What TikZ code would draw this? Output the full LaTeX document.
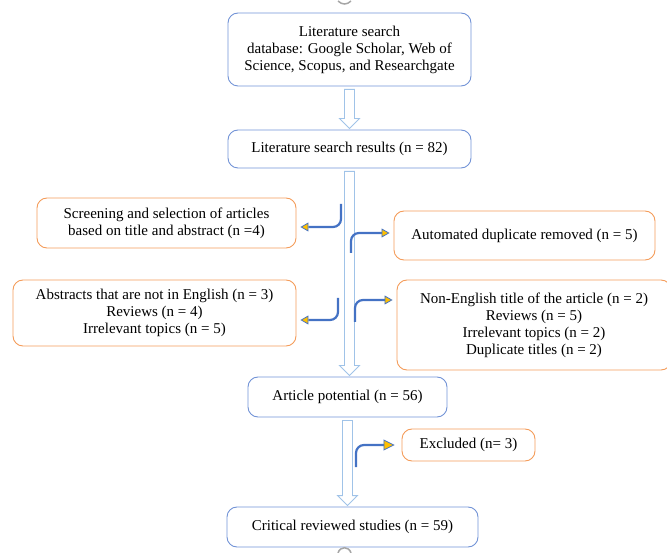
\documentclass[tikz,border=0pt]{standalone}
\usepackage{fontspec}
\setmainfont{Liberation Serif}
\usetikzlibrary{arrows.meta,calc}
\definecolor{boxblue}{RGB}{114,147,214}
\definecolor{boxorange}{RGB}{244,156,90}
\definecolor{linkblue}{RGB}{68,114,196}
\definecolor{tipgold}{RGB}{255,192,0}
\definecolor{hollowblue}{RGB}{160,195,232}

\begin{document}
\begin{tikzpicture}[x=1pt,y=-1pt,
    every node/.style={font=\fontsize{15}{17}\selectfont, align=center, rounded corners=10pt, line width=0.9pt},
    mainbox/.style={draw=boxblue},
    sidebox/.style={draw=boxorange},
    hollow/.style={draw=hollowblue, fill=white, line width=0.9pt},
    bent/.style={draw=linkblue, line width=2.2pt, rounded corners=8pt, shorten >=4pt,
        -{Triangle[length=8pt,width=9pt,line width=0.8pt,fill=tipgold]}}]

\useasboundingbox (0,0) rectangle (667,553);

% main column
\node[mainbox, minimum width=243pt, minimum height=73pt] (search) at (349.5,49.5)
    {Literature search\\ database: Google Scholar, Web of\\ Science, Scopus, and Researchgate};
\node[mainbox, minimum width=243pt, minimum height=38pt] (results) at (349.5,149)
    {Literature search results (n = 82)};
\node[mainbox, minimum width=199pt, minimum height=40pt] (potential) at (347.5,397)
    {Article potential (n = 56)};
\node[mainbox, minimum width=251pt, minimum height=40pt] (critical) at (352.5,527)
    {Critical reviewed studies (n = 59)};

% left side
\node[sidebox, minimum width=259pt, minimum height=50pt] (screening) at (166.5,223)
    {Screening and selection of articles\\ based on title and abstract (n =4)};
\node[sidebox, minimum width=283pt, minimum height=66pt] (abstracts) at (154.5,313)
    {Abstracts that are not in English (n = 3)\\ Reviews (n = 4)\\ Irrelevant topics (n = 5)};

% right side
\node[sidebox, minimum width=261pt, minimum height=49pt] (automated) at (524.5,235.5)
    {Automated duplicate removed (n = 5)};
\node[sidebox, minimum width=274pt, minimum height=90pt] (nonenglish) at (534,325)
    {Non-English title of the article (n = 2)\\ Reviews (n = 5)\\ Irrelevant topics (n = 2)\\ Duplicate titles (n = 2)};
\node[sidebox, minimum width=133pt, minimum height=32pt] (excluded) at (468.5,445)
    {Excluded (n= 3)};

% hollow arrows down the column
\foreach \a/\b in {search/results, results/potential, potential/critical} {
    \draw[hollow] let \p1=(\a.south), \p2=(\b.north) in
        (\x1-5pt,\y1-3pt) -- (\x1-5pt,\y2+11pt) -- (\x1-10pt,\y2+11pt) -- (\x1,\y2+1pt)
        -- (\x1+10pt,\y2+11pt) -- (\x1+5pt,\y2+11pt) -- (\x1+5pt,\y1-3pt) -- cycle;
}

% bent arrows
\coordinate (s1) at (341,204);
\coordinate (s2) at (338,298);
\coordinate (s3) at (351,253);
\coordinate (s4) at (355,322);
\coordinate (s5) at (356,467);

\draw[bent] (s1) |- ([yshift=-4pt]screening.east);
\draw[bent] (s2) |- ([yshift=-7pt]abstracts.east);
\draw[bent] (s3) |- ([yshift=2.5pt]automated.west);
\draw[bent] (s4) |- ([yshift=25pt]nonenglish.west);
\draw[bent, shorten >=7pt, -{Triangle[length=11pt,width=11pt,line width=0.8pt,fill=tipgold]}]
    (s5) |- (excluded.west);

% cut-off marks at the page edges
\draw[gray!70, line width=1.5pt] (338,1) .. controls (342,5) and (347,5) .. (351,1);
\draw[gray!70, line width=1.5pt] (338,553) .. controls (340,546) and (349,546) .. (351,553);

\end{tikzpicture}
\end{document}
